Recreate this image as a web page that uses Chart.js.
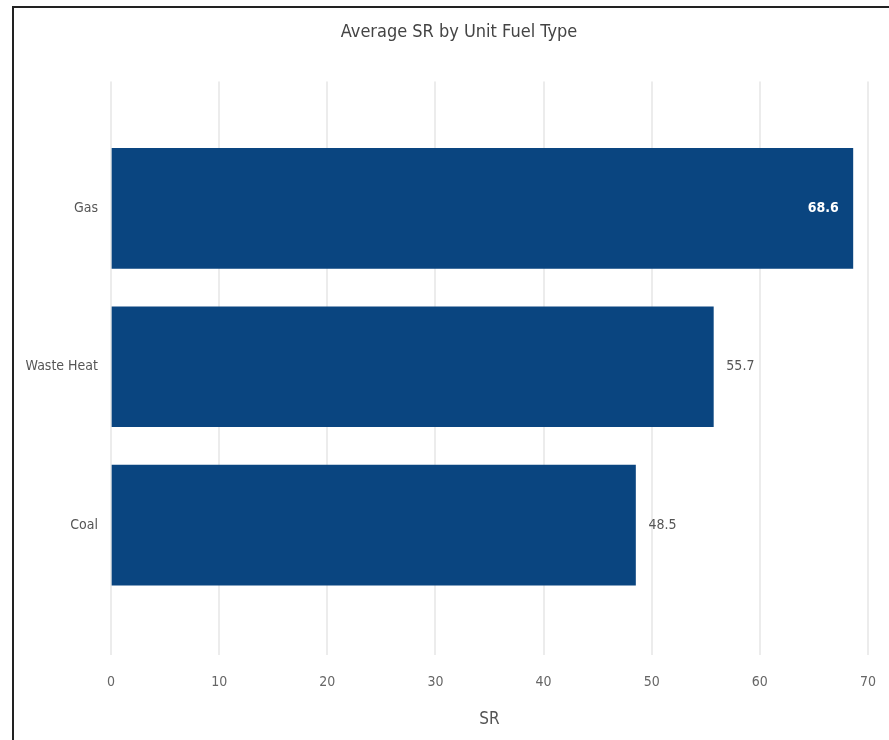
<!DOCTYPE html>
<html>
<head>
<meta charset="utf-8">
<title>Average SR by Unit Fuel Type</title>
<script src="https://cdn.jsdelivr.net/npm/chart.js@4.4.0/dist/chart.umd.min.js"></script>
<style>
    html, body { margin: 0; padding: 0; background: #fff; overflow: hidden; }
    #frame {
        position: absolute;
        left: 12px;
        top: 6px;
        width: 877px;
        height: 732px;
        border-left: 2px solid #222;
        border-top: 2px solid #222;
    }
    #wrap { position: relative; width: 875px; height: 732px; }
</style>
</head>
<body>
<div id="frame">
    <div id="wrap"><canvas id="graficoSR"></canvas></div>
</div>
<script>
// categorias e valores
const fuelTypes = ["Gas", "Waste Heat", "Coal"];
const avgSR = [68.6, 55.7, 48.5];
const srTicks = [0, 10, 20, 30, 40, 50, 60, 70];

const FONT = "'Liberation Sans Narrow', 'DejaVu Sans Condensed', 'Roboto Condensed', sans-serif";
const BAR_COLOR = "#0a4580";

// rótulos de valor: dentro da barra se não couber fora
const valueLabels = {
    id: "valueLabels",
    afterDatasetsDraw(chart) {
        const ctx = chart.ctx;
        const area = chart.chartArea;
        const meta = chart.getDatasetMeta(0);
        ctx.save();
        ctx.textBaseline = "middle";
        meta.data.forEach(function (bar, i) {
            const text = avgSR[i].toFixed(1);
            ctx.font = "14px " + FONT;
            const w = ctx.measureText(text).width;
            if (bar.x + 13 + w > area.right) {
                ctx.font = "bold 14px " + FONT;
                ctx.fillStyle = "#ffffff";
                ctx.textAlign = "right";
                ctx.fillText(text, bar.x - 14, bar.y);
            } else {
                ctx.fillStyle = "#555555";
                ctx.textAlign = "left";
                ctx.fillText(text, bar.x + 13, bar.y);
            }
        });
        ctx.restore();
    }
};

// título um pouco deslocado para a direita
const titleShift = {
    id: "titleShift",
    afterLayout(chart) {
        if (chart.titleBlock) chart.titleBlock.left = 36;
    }
};

const ctx = document.getElementById("graficoSR").getContext("2d");

new Chart(ctx, {
    type: "bar",
    data: {
        datasets: [{
            label: "SR",
            data: avgSR.map((v, i) => ({ x: v, y: i })),
            backgroundColor: BAR_COLOR,
            borderWidth: 0,
            barThickness: 120
        }]
    },
    options: {
        indexAxis: "y",
        responsive: true,
        maintainAspectRatio: false,
        animation: false,
        layout: { padding: { left: 0, right: 21, top: 0, bottom: 0 } },
        plugins: {
            legend: { display: false },
            tooltip: { enabled: false },
            title: {
                display: true,
                text: "Average SR by Unit Fuel Type",
                color: "#444",
                font: { family: FONT, size: 18, weight: "normal" },
                padding: { top: 14, bottom: 38 }
            }
        },
        scales: {
            x: {
                type: "linear",
                min: 0,
                max: 70,
                afterBuildTicks: (scale) => { scale.ticks = srTicks.map(v => ({ value: v })); },
                afterFit: (scale) => { scale.height = 85; },
                grid: { color: "#ececec", lineWidth: 2, drawTicks: true, tickLength: 16, tickColor: "transparent" },
                border: { display: false },
                ticks: { color: "#666", padding: 3, font: { family: FONT, size: 14 } },
                title: {
                    display: true,
                    text: "SR",
                    color: "#555",
                    font: { family: FONT, size: 17 },
                    padding: { top: 0, bottom: 10 }
                }
            },
            y: {
                type: "linear",
                reverse: true,
                offset: false,
                min: -0.8,
                max: 2.82,
                afterBuildTicks: (scale) => { scale.ticks = fuelTypes.map((_, i) => ({ value: i })); },
                afterFit: (scale) => { scale.width = 97; },
                grid: { display: false, drawTicks: false },
                border: { display: false },
                ticks: {
                    color: "#555",
                    padding: 13,
                    font: { family: FONT, size: 14 },
                    callback: (value) => fuelTypes[value]
                }
            }
        }
    },
    plugins: [valueLabels, titleShift]
});
</script>
</body>
</html>
